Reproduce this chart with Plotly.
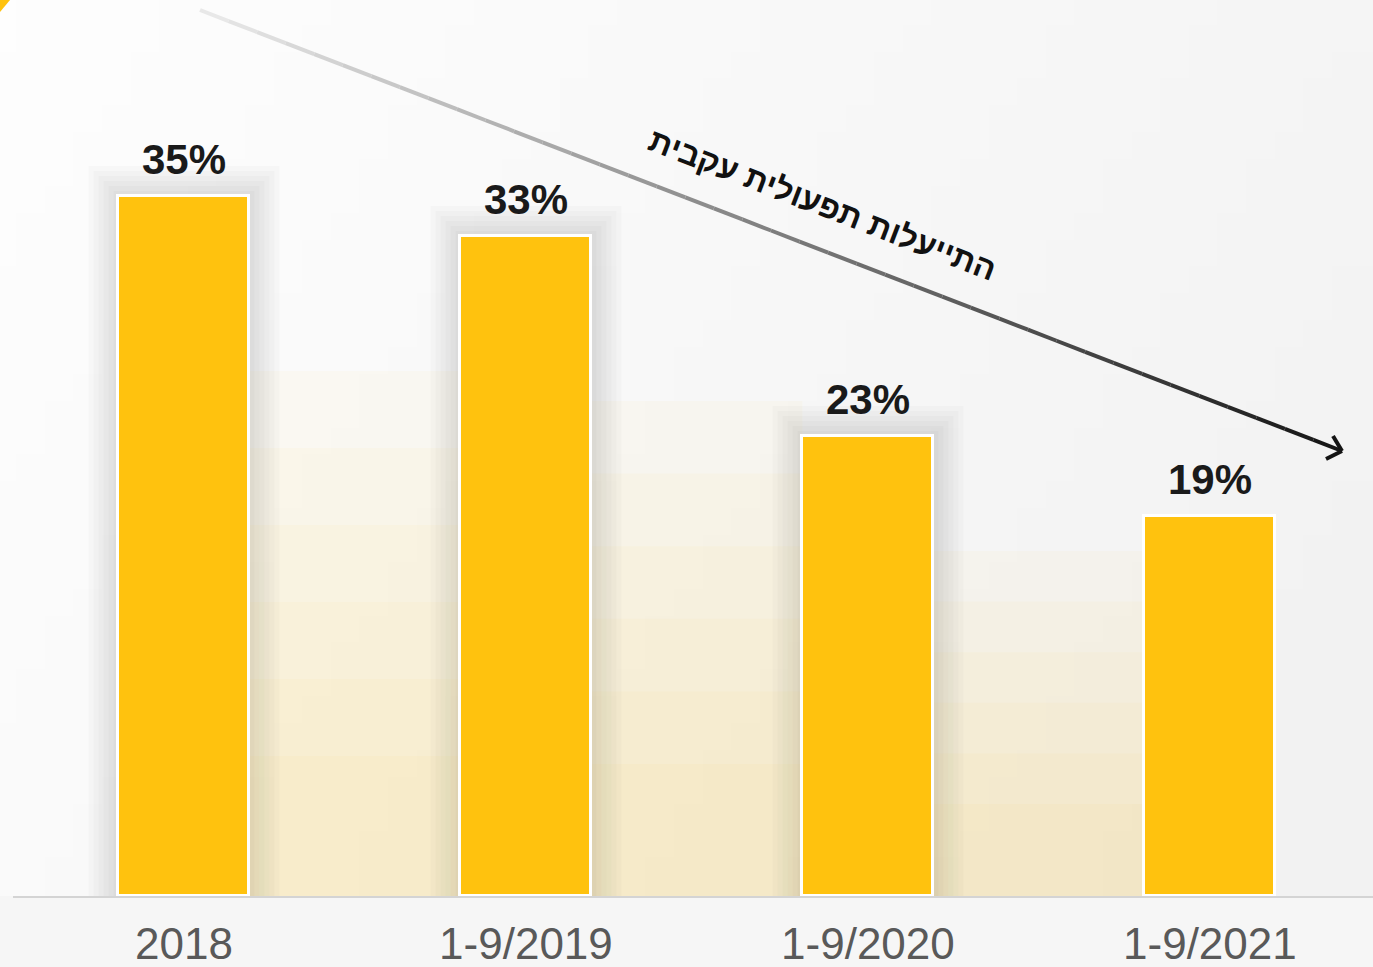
import base64, struct, zlib
import plotly.graph_objects as go

categories = ["2018", "1-9/2019", "1-9/2020", "1-9/2021"]
values = [35, 33, 23, 19]
value_labels = ["35%", "33%", "23%", "19%"]
trend_text = "התייעלות תפעולית עקבית"

W, H = 1373, 967
BASE = 896  # pixel row of the baseline
XR = [-0.538, 3.477]
YR = [0, BASE / 20.0]
BAR_W = 0.383
BAR_COLOR = "#FFC20E"


def px(x):
    return x / W


def py(y):
    return (BASE - y) / BASE


def png_data_uri(w, h, fn):
    raw = b""
    for j in range(h):
        row = bytearray([0])
        for i in range(w):
            row += bytes(fn(i / (w - 1), j / (h - 1)))
        raw += bytes(row)

    def chunk(t, d):
        c = struct.pack(">I", len(d)) + t + d
        return c + struct.pack(">I", zlib.crc32(t + d) & 0xFFFFFFFF)

    data = b"\x89PNG\r\n\x1a\n"
    data += chunk(b"IHDR", struct.pack(">IIBBBBB", w, h, 8, 2, 0, 0, 0))
    data += chunk(b"IDAT", zlib.compress(raw))
    data += chunk(b"IEND", b"")
    return "data:image/png;base64," + base64.b64encode(data).decode()


def bg(u, v):
    t = min(1.0, 0.75 * u + 0.35 * v)
    g = int(round(254 - 12 * t))
    return (g, g, g)


bg_uri = png_data_uri(48, 36, bg)

fig = go.Figure()
fig.add_trace(go.Bar(
    x=list(range(len(categories))), y=values, width=BAR_W,
    marker=dict(color=BAR_COLOR, line=dict(color="white", width=3)),
    hoverinfo="skip",
))

shapes = []
# soft glow around the first three bars
dx = 5 / 342
dyv = 5 / 20
for i, v in enumerate(values[:-1]):
    for k in range(1, 7):
        shapes.append(dict(type="rect", xref="x", yref="y", layer="below",
                           x0=i - BAR_W / 2 - k * dx, x1=i + BAR_W / 2 + k * dx,
                           y0=0, y1=v + k * dyv, line=dict(width=0),
                           fillcolor="rgba(0,0,0,0.02)"))
# warm reflection between bars
for i in range(len(values) - 1):
    v = values[i]
    for k in range(6):
        h = v * (0.75 - 0.11 * k)
        shapes.append(dict(type="rect", xref="x", yref="y", layer="below",
                           x0=i + BAR_W / 2, x1=i + 1 - BAR_W / 2,
                           y0=0, y1=h, line=dict(width=0),
                           fillcolor="rgba(255,200,40,0.035)"))

# baseline
shapes.append(dict(type="line", xref="paper", yref="paper",
                   x0=px(13), x1=1, y0=py(897), y1=py(897),
                   line=dict(color="#d4d4d4", width=2)))

# top-left yellow corner
shapes.append(dict(type="path", xref="paper", yref="paper",
                   path=f"M 0 {py(0)} L {px(10)} {py(0)} L 0 {py(12)} Z",
                   fillcolor=BAR_COLOR, line=dict(width=0)))

# gradient arrow
x0a, y0a, x1a, y1a = 200, 10, 1342, 451
N = 40
for s in range(N):
    t0 = s / N
    t1 = (s + 1) / N
    tm = (t0 + t1) / 2
    g = int(round(235 - 215 * tm))
    shapes.append(dict(type="line", xref="paper", yref="paper",
                       x0=px(x0a + (x1a - x0a) * t0), y0=py(y0a + (y1a - y0a) * t0),
                       x1=px(x0a + (x1a - x0a) * t1), y1=py(y0a + (y1a - y0a) * t1),
                       line=dict(color=f"rgb({g},{g},{g})", width=4)))
for ax_, ay_ in [(1333, 436), (1326, 459)]:
    shapes.append(dict(type="line", xref="paper", yref="paper",
                       x0=px(x1a), y0=py(y1a), x1=px(ax_), y1=py(ay_),
                       line=dict(color="#141414", width=4)))

annotations = []
for i, (v, lab) in enumerate(zip(values, value_labels)):
    annotations.append(dict(x=i, y=v, xref="x", yref="y", text=f"<b>{lab}</b>",
                            showarrow=False, xanchor="center", yanchor="bottom", yshift=11,
                            font=dict(family="Arial, Liberation Sans", size=42, color="#1a1a1a")))
annotations.append(dict(x=px(823), y=py(205), xref="paper", yref="paper",
                        xanchor="center", yanchor="middle",
                        text=f"<b>{trend_text}</b>", showarrow=False, textangle=21,
                        font=dict(family="Arial, Liberation Sans", size=32, color="#111111")))

fig.update_layout(
    width=W, height=H,
    margin=dict(l=0, r=0, t=0, b=H - BASE, pad=0),
    paper_bgcolor="#f6f6f6", plot_bgcolor="rgba(0,0,0,0)",
    showlegend=False, bargap=0,
    shapes=shapes, annotations=annotations,
    images=[dict(source=bg_uri, xref="paper", yref="paper", x=0, y=H / BASE,
                 sizex=1, sizey=H / BASE, sizing="stretch", layer="below",
                 xanchor="left", yanchor="top")],
    xaxis=dict(range=XR, tickvals=list(range(len(categories))), ticktext=categories,
               tickfont=dict(family="Arial, Liberation Sans", size=44, color="#595959"),
               ticks="outside", ticklen=9, tickcolor="rgba(0,0,0,0)",
               showgrid=False, zeroline=False, showline=False, fixedrange=True),
    yaxis=dict(range=YR, visible=False, showgrid=False, zeroline=False, fixedrange=True),
)

fig.write_html("out.html", config={"displayModeBar": False},
               post_script="document.body.style.margin='0';document.body.style.overflow='hidden';")
